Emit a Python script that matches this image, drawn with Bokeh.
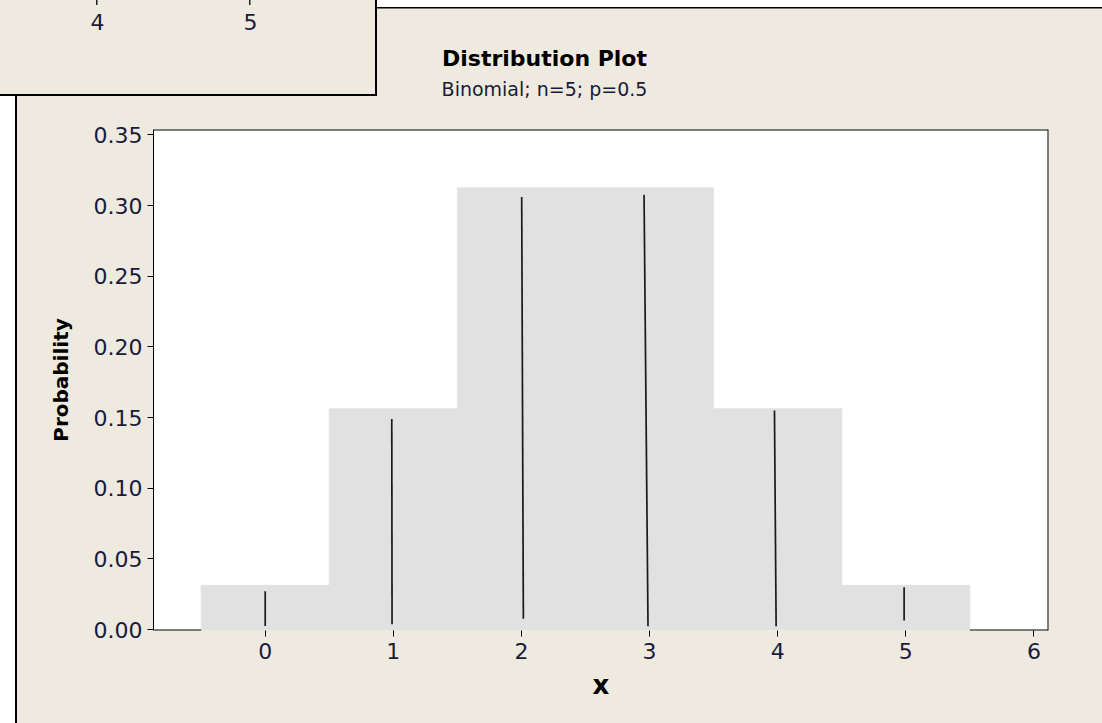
from bokeh.plotting import figure
from bokeh.models import (Label, Range1d, FixedTicker, NumeralTickFormatter,
                          InlineStyleSheet)
from bokeh.embed import file_html
from bokeh.resources import INLINE

# ---- data ----
x_values = [0, 1, 2, 3, 4, 5]
probabilities = [0.03125, 0.15625, 0.3125, 0.3125, 0.15625, 0.03125]

# hand-drawn vertical marker lines (bottom and top ends)
mark_x_bottom = [0.000, 0.990, 2.015, 2.988, 3.988, 4.987]
mark_x_top = [0.000, 0.988, 2.002, 2.957, 3.975, 4.987]
mark_y_bottom = [0.0024, 0.0037, 0.0076, 0.0023, 0.0023, 0.0064]
mark_y_top = [0.0271, 0.1490, 0.3060, 0.3076, 0.1550, 0.0299]

x_ticks = [0, 1, 2, 3, 4, 5, 6]
y_ticks = [0.00, 0.05, 0.10, 0.15, 0.20, 0.25, 0.30, 0.35]
inset_tick_labels = ["4", "5"]

title_text = "Distribution Plot"
subtitle_text = "Binomial; n=5; p=0.5"
x_label = "x"
y_label = "Probability"

# ---- styles ----
BEIGE = "#EEEAE0"
BAR_GRAY = "#E1E1E1"
TXT = "#1a1a3a"
FONT = "DejaVu Sans"
W, H = 1102, 723
X_START, X_END = -0.872, 6.114
Y_START, Y_END = -0.0007, 0.3538


def g(color, x, y, w, h):
    return f"linear-gradient({color},{color}) {x}px {y}px / {w}px {h}px no-repeat"


layers = [
    g("#000", 375, 0, 2, 96),        # overlapping window: right edge
    g("#000", 0, 94, 377, 2),        # overlapping window: bottom edge
    g("#222", 96, 0, 1.5, 5),        # overlapping window: tick
    g("#222", 249, 0, 1.5, 5),       # overlapping window: tick
    g(BEIGE, 0, 0, 376, 95),         # overlapping window: fill
    g("#000", 15, 7, 2, H),          # outer panel: left edge
    g("#000", 15, 7, W, 1.5),        # outer panel: top edge
    g(BEIGE, 15, 7, W, H),           # outer panel: fill
]
css = ":host { background: " + ", ".join(layers) + ", #ffffff; }"

p = figure(width=W, height=H, output_backend="svg", toolbar_location=None,
           x_range=Range1d(X_START, X_END), y_range=Range1d(Y_START, Y_END),
           min_border_left=153, min_border_right=54, min_border_top=129,
           min_border_bottom=93, title_location=None,
           border_fill_color=BEIGE, border_fill_alpha=0.0,
           background_fill_color="white",
           stylesheets=[InlineStyleSheet(css=css)])

p.vbar(x=x_values, width=1, bottom=Y_START, top=probabilities,
       fill_color=BAR_GRAY, line_color=BAR_GRAY, line_width=0.8)
p.segment(x0=mark_x_bottom, y0=mark_y_bottom, x1=mark_x_top, y1=mark_y_top,
          line_color="#1a1a1a", line_width=1.7)

# frame edges (bottom edge only where no bar covers it)
bar_lo = x_values[0] - 0.5
bar_hi = x_values[-1] + 0.5
p.segment(x0=[X_START, bar_hi, X_START, X_END],
          y0=[Y_START, Y_START, Y_END, Y_START],
          x1=[bar_lo, X_END, X_END, X_END],
          y1=[Y_START, Y_START, Y_END, Y_END],
          line_color="black", line_width=2)

# axes
p.grid.visible = False
p.outline_line_color = None
for ax in (p.xaxis, p.yaxis):
    ax.axis_line_color = "black"
    ax.major_tick_line_color = "black"
    ax.major_tick_out = 6
    ax.major_tick_in = 0
    ax.minor_tick_line_color = None
    ax.major_label_text_font = FONT
    ax.major_label_text_font_size = "22px"
    ax.major_label_text_color = TXT
    ax.axis_label_text_font = FONT
    ax.axis_label_text_font_style = "bold"
    ax.axis_label_text_color = "black"
p.xaxis.axis_line_color = None
p.xaxis.ticker = FixedTicker(ticks=x_ticks)
p.yaxis.ticker = FixedTicker(ticks=y_ticks)
p.yaxis.formatter = NumeralTickFormatter(format="0.00")
p.xaxis.axis_label = x_label
p.yaxis.axis_label = y_label
p.xaxis.axis_label_text_font_size = "26px"
p.yaxis.axis_label_text_font_size = "20px"
p.xaxis.major_label_standoff = 6
p.yaxis.major_label_standoff = 5
p.xaxis.axis_label_standoff = 8
p.yaxis.axis_label_standoff = 18

# titles (above the plot, unclipped)
p.add_layout(Label(x=544, y=58, x_units="canvas", y_units="canvas",
                   text=title_text, text_align="center", text_baseline="alphabetic",
                   text_font=FONT, text_font_style="bold", text_font_size="22px",
                   text_color="black"), "above")
p.add_layout(Label(x=544, y=88, x_units="canvas", y_units="canvas",
                   text=subtitle_text, text_align="center", text_baseline="alphabetic",
                   text_font=FONT, text_font_size="19px", text_color=TXT), "above")

# labels of the overlapping window fragment
for xc, t in zip([97, 250], inset_tick_labels):
    p.add_layout(Label(x=xc, y=21, x_units="canvas", y_units="canvas",
                       text=t, text_align="center", text_baseline="alphabetic",
                       text_font=FONT, text_font_size="22px", text_color=TXT,
                       level="overlay"), "above")

open("out.html", "w").write(file_html(p, INLINE))
